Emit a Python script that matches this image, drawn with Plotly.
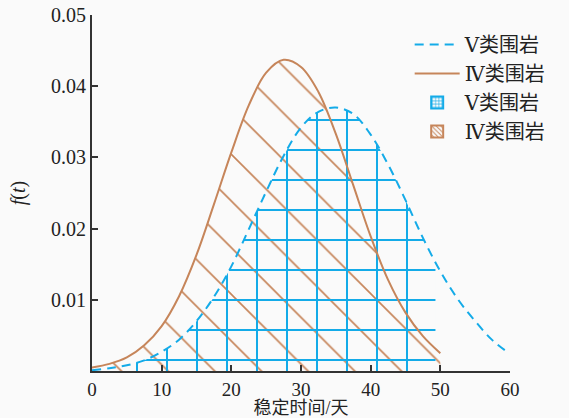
import numpy as np
import plotly.graph_objects as go

# ---- data ----
t_v = [0, 2.5, 5, 7.5, 10, 12.5, 15, 17.5, 20, 22.5, 25, 27.5, 30, 32.5, 35,
       37.5, 40, 42.5, 45, 47.5, 50, 52.5, 55, 57.5, 60]
f_v = [0.0001, 0.0004, 0.0008, 0.0015, 0.0027, 0.0044, 0.0070, 0.0104, 0.0147,
       0.0199, 0.0252, 0.0302, 0.0342, 0.0364, 0.0370, 0.0361, 0.0332, 0.0290,
       0.0240, 0.0187, 0.0140, 0.0101, 0.0070, 0.0043, 0.0024]

t_iv = [0, 2.5, 5, 7.5, 10, 12.5, 15, 17.5, 20, 22.5, 25, 27.5, 30, 32.5, 35,
        37.5, 40, 42.5, 45, 47.5, 50]
f_iv = [0.0005, 0.0010, 0.0019, 0.0036, 0.0063, 0.0105, 0.0163, 0.0234, 0.0307,
        0.0373, 0.0419, 0.0437, 0.0427, 0.0392, 0.0333, 0.0261, 0.0189, 0.0128,
        0.0082, 0.0049, 0.0025]

v_fill_range = [6, 49.3]     # shaded span of the class V curve
iv_fill_range = [0, 50]      # shaded span of the class IV curve

name_v = "Ⅴ类围岩"
name_iv = "Ⅳ类围岩"
x_ticks = [0, 10, 20, 30, 40, 50, 60]
y_ticks = [0.01, 0.02, 0.03, 0.04, 0.05]
x_title = "稳定时间/天"
y_title = "<i>f</i>(<i>t</i>)"

BLUE = "#14abe8"
BROWN = "#c6855a"
AXIS = "#333333"
FONT = "Liberation Serif, DejaVu Serif, Noto Sans CJK SC, serif"


def span(ts, fs, lo, hi):
    ts = np.asarray(ts, float)
    fs = np.asarray(fs, float)
    inner = (ts > lo) & (ts < hi)
    xs = np.concatenate([[lo], ts[inner], [hi]])
    ys = np.concatenate([[np.interp(lo, ts, fs)], fs[inner], [np.interp(hi, ts, fs)]])
    return xs, ys


xv_f, yv_f = span(t_v, f_v, *v_fill_range)
xiv_f, yiv_f = span(t_iv, f_iv, *iv_fill_range)

fig = go.Figure()

# hatched area under class IV curve
fig.add_trace(go.Scatter(
    x=xiv_f, y=yiv_f, mode="lines", line=dict(width=0, shape="spline"),
    fill="tozeroy", fillcolor="rgba(0,0,0,0)",
    fillpattern=dict(shape="\\", fgcolor=BROWN, bgcolor="rgba(0,0,0,0)",
                     fgopacity=1, size=33, solidity=0.05, fillmode="overlay"),
    showlegend=False, hoverinfo="skip"))

# grid area under class V curve
fig.add_trace(go.Scatter(
    x=xv_f, y=yv_f, mode="lines", line=dict(width=0, shape="spline"),
    fill="tozeroy", fillcolor="rgba(0,0,0,0)",
    fillpattern=dict(shape="+", fgcolor=BLUE, bgcolor="rgba(0,0,0,0)",
                     fgopacity=1, size=30, solidity=0.13, fillmode="overlay"),
    showlegend=False, hoverinfo="skip"))

# curves
fig.add_trace(go.Scatter(
    x=t_v, y=f_v, mode="lines", name=name_v, legendgroup="curves", legendrank=1,
    line=dict(color=BLUE, width=2, dash="9px,6px", shape="spline")))
fig.add_trace(go.Scatter(
    x=t_iv, y=f_iv, mode="lines", name=name_iv, legendgroup="curves", legendrank=2,
    line=dict(color=BROWN, width=2, shape="spline")))

# legend keys for the shaded areas
fig.add_trace(go.Bar(
    x=[None], y=[None], name=name_v, legendgroup="areas", legendrank=3,
    marker=dict(color="rgba(0,0,0,0)", line=dict(color=BLUE, width=2),
                pattern=dict(shape="+", fgcolor=BLUE, bgcolor="rgba(0,0,0,0)",
                             fgopacity=1, size=4, solidity=0.35, fillmode="overlay"))))
fig.add_trace(go.Bar(
    x=[None], y=[None], name=name_iv, legendgroup="areas", legendrank=4,
    marker=dict(color="rgba(0,0,0,0)", line=dict(color=BROWN, width=2),
                pattern=dict(shape="\\", fgcolor=BROWN, bgcolor="rgba(0,0,0,0)",
                             fgopacity=1, size=4, solidity=0.3, fillmode="overlay"))))

fig.update_layout(
    width=569, height=418,
    margin=dict(l=92, r=59, t=15, b=47),
    paper_bgcolor="#fafafa", plot_bgcolor="#fafafa",
    font=dict(family=FONT, size=20, color="#222222"),
    legend=dict(x=0.76, y=0.972, xanchor="left", yanchor="top",
                bgcolor="rgba(0,0,0,0)", itemwidth=45,
                traceorder="grouped", tracegroupgap=0,
                font=dict(size=20)),
    showlegend=True,
)

fig.update_xaxes(
    range=[0, 60], tickvals=x_ticks, ticktext=[str(v) for v in x_ticks],
    showgrid=False, zeroline=False, showline=True, linecolor=AXIS, linewidth=2,
    ticks="inside", ticklen=6, tickwidth=1.5, tickcolor=AXIS,
    tickfont=dict(size=19), automargin=False,
    title=dict(text=x_title, standoff=5, font=dict(size=18)),
)
fig.update_yaxes(
    range=[0, 0.05], tickvals=y_ticks, ticktext=[f"{v:.2f}" for v in y_ticks],
    showgrid=False, zeroline=False, showline=True, linecolor=AXIS, linewidth=2,
    ticks="inside", ticklen=6, tickwidth=1.5, tickcolor=AXIS,
    tickfont=dict(size=20), automargin=False,
    title=dict(text=y_title, standoff=20, font=dict(size=20)),
)

fig.write_html("out.html")
